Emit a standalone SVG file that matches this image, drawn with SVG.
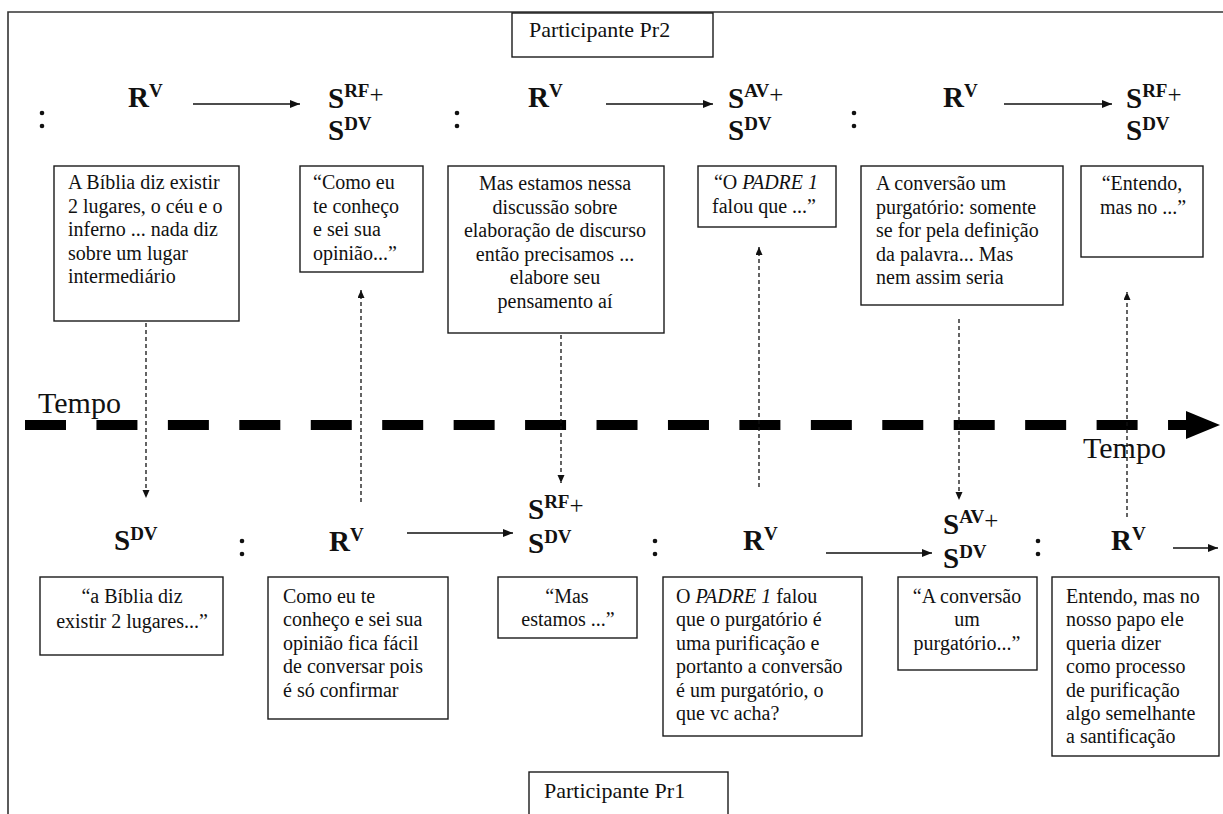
<svg xmlns="http://www.w3.org/2000/svg" width="1223" height="814" viewBox="0 0 1223 814">
<defs>
<style>
.box{fill:#fff;stroke:#1a1a1a;stroke-width:1.4}
.t{font-family:"Liberation Serif","Times New Roman",serif;font-size:20px;fill:#111}
.c{text-anchor:middle}
.lab{font-family:"Liberation Serif","Times New Roman",serif;font-size:29px;font-weight:bold;fill:#111}
.sup{font-size:19px}
.plus{font-size:25px;font-weight:normal}
.part{font-family:"Liberation Serif","Times New Roman",serif;font-size:22px;fill:#111}
.tempo{font-family:"Liberation Serif","Times New Roman",serif;font-size:30px;fill:#111}
.solid{stroke:#111;stroke-width:1.4;fill:none}
.dot{stroke:#111;stroke-width:1.3;stroke-dasharray:4 3;fill:none}
.colon{fill:#111}
</style>
<marker id="ah" markerUnits="userSpaceOnUse" markerWidth="12" markerHeight="10" refX="10" refY="4" orient="auto">
<path d="M0,0 L10,4 L0,8 Z" fill="#111"/>
</marker>
<marker id="dh" markerUnits="userSpaceOnUse" markerWidth="10" markerHeight="8" refX="8" refY="3.5" orient="auto">
<path d="M0,0 L8,3.5 L0,7 Z" fill="#111"/>
</marker>
</defs>
<rect width="1223" height="814" fill="#fff"/>
<g id="frame">
<path d="M8,814 L8,12 L1223,12" stroke="#333" stroke-width="1.6" fill="none"/>
</g>

<g id="timeline">
<line x1="25" y1="425" x2="1190" y2="425" stroke="#000" stroke-width="10" stroke-dasharray="41 30.44"/>
<polygon points="1186,411 1220,425 1186,439" fill="#000"/>
<text class="tempo" x="38" y="413">Tempo</text>
<text class="tempo" x="1083" y="458">Tempo</text>
</g>

<g id="pr2">
<rect class="box" x="512" y="13" width="201" height="44"/>
<text class="part" x="529" y="37">Participante Pr2</text>
</g>
<g id="pr1">
<rect class="box" x="529" y="772" width="199" height="50"/>
<text class="part" x="544" y="798">Participante Pr1</text>
</g>

<g id="top-labels">
<circle class="colon" cx="42" cy="113" r="2.3"/><circle class="colon" cx="42" cy="126" r="2.3"/>
<circle class="colon" cx="457" cy="113" r="2.3"/><circle class="colon" cx="457" cy="126" r="2.3"/>
<circle class="colon" cx="854" cy="113" r="2.3"/><circle class="colon" cx="854" cy="126" r="2.3"/>
<text class="lab" x="128" y="107">R<tspan class="sup" dy="-10">V</tspan></text>
<text class="lab" x="328" y="108">S<tspan class="sup" dy="-11">RF</tspan><tspan class="plus" dy="6">+</tspan></text>
<text class="lab" x="328" y="140">S<tspan class="sup" dy="-10">DV</tspan></text>
<text class="lab" x="528" y="107">R<tspan class="sup" dy="-10">V</tspan></text>
<text class="lab" x="728" y="108">S<tspan class="sup" dy="-11">AV</tspan><tspan class="plus" dy="6">+</tspan></text>
<text class="lab" x="728" y="140">S<tspan class="sup" dy="-10">DV</tspan></text>
<text class="lab" x="943" y="107">R<tspan class="sup" dy="-10">V</tspan></text>
<text class="lab" x="1126" y="108">S<tspan class="sup" dy="-11">RF</tspan><tspan class="plus" dy="6">+</tspan></text>
<text class="lab" x="1126" y="140">S<tspan class="sup" dy="-10">DV</tspan></text>
</g>

<g id="bottom-labels">
<circle class="colon" cx="242" cy="541" r="2.3"/><circle class="colon" cx="242" cy="554" r="2.3"/>
<circle class="colon" cx="655" cy="541" r="2.3"/><circle class="colon" cx="655" cy="554" r="2.3"/>
<circle class="colon" cx="1038" cy="541" r="2.3"/><circle class="colon" cx="1038" cy="554" r="2.3"/>
<text class="lab" x="114" y="550">S<tspan class="sup" dy="-10">DV</tspan></text>
<text class="lab" x="329" y="551">R<tspan class="sup" dy="-10">V</tspan></text>
<text class="lab" x="528" y="519">S<tspan class="sup" dy="-11">RF</tspan><tspan class="plus" dy="6">+</tspan></text>
<text class="lab" x="528" y="553">S<tspan class="sup" dy="-10">DV</tspan></text>
<text class="lab" x="743" y="550">R<tspan class="sup" dy="-10">V</tspan></text>
<text class="lab" x="943" y="534">S<tspan class="sup" dy="-11">AV</tspan><tspan class="plus" dy="6">+</tspan></text>
<text class="lab" x="943" y="568">S<tspan class="sup" dy="-10">DV</tspan></text>
<text class="lab" x="1111" y="550">R<tspan class="sup" dy="-10">V</tspan></text>
</g>

<g id="t1">
<rect class="box" x="54" y="166" width="185" height="155"/>
<text class="t" x="68" y="189">A Bíblia diz existir</text>
<text class="t" x="68" y="212.5">2 lugares, o céu e o</text>
<text class="t" x="68" y="236">inferno ... nada diz</text>
<text class="t" x="68" y="259.5">sobre um lugar</text>
<text class="t" x="68" y="283">intermediário</text>
</g>
<g id="t2">
<rect class="box" x="300" y="166" width="123" height="106"/>
<text class="t" x="313" y="189">“Como eu</text>
<text class="t" x="313" y="212.5">te conheço</text>
<text class="t" x="313" y="236">e sei sua</text>
<text class="t" x="313" y="259.5">opinião...”</text>
</g>
<g id="t3">
<rect class="box" x="448" y="166" width="216" height="167"/>
<text class="t c" x="555" y="190">Mas estamos nessa</text>
<text class="t c" x="555" y="213.5">discussão sobre</text>
<text class="t c" x="555" y="237">elaboração  de discurso</text>
<text class="t c" x="555" y="260.5">então precisamos  ...</text>
<text class="t c" x="555" y="284">elabore seu</text>
<text class="t c" x="555" y="307.5">pensamento aí</text>
</g>
<g id="t4">
<rect class="box" x="698" y="166" width="138" height="61"/>
<text class="t c" x="766" y="189">“O <tspan font-style="italic">PADRE 1</tspan></text>
<text class="t c" x="764" y="212.5">falou que ...”</text>
</g>
<g id="t5">
<rect class="box" x="861" y="166" width="202" height="139"/>
<text class="t" x="876" y="190">A conversão um</text>
<text class="t" x="876" y="213.5">purgatório: somente</text>
<text class="t" x="876" y="237">se for pela  definição</text>
<text class="t" x="876" y="260.5">da palavra... Mas</text>
<text class="t" x="876" y="284">nem assim  seria</text>
</g>
<g id="t6">
<rect class="box" x="1081" y="166" width="122" height="91"/>
<text class="t c" x="1142" y="190">“Entendo,</text>
<text class="t c" x="1143" y="214">mas no ...”</text>
</g>

<g id="b1">
<rect class="box" x="40" y="577" width="183" height="78"/>
<text class="t c" x="132" y="603">“a Bíblia  diz</text>
<text class="t c" x="132" y="627.5">existir 2 lugares...”</text>
</g>
<g id="b2">
<rect class="box" x="268" y="577" width="180" height="142"/>
<text class="t" x="283" y="603">Como eu te</text>
<text class="t" x="283" y="626.4">conheço e sei sua</text>
<text class="t" x="283" y="649.8">opinião  fica fácil</text>
<text class="t" x="283" y="673.2">de conversar pois</text>
<text class="t" x="283" y="696.6">é só confirmar</text>
</g>
<g id="b3">
<rect class="box" x="498" y="577" width="139" height="61"/>
<text class="t c" x="567" y="603">“Mas</text>
<text class="t c" x="568" y="626.4">estamos ...”</text>
</g>
<g id="b4">
<rect class="box" x="663" y="577" width="199" height="159"/>
<text class="t" x="676" y="603">O <tspan font-style="italic">PADRE 1</tspan> falou</text>
<text class="t" x="676" y="626.4">que o purgatório é</text>
<text class="t" x="676" y="649.8">uma purificação  e</text>
<text class="t" x="676" y="673.2">portanto  a conversão</text>
<text class="t" x="676" y="696.6">é um  purgatório,  o</text>
<text class="t" x="676" y="720">que vc acha?</text>
</g>
<g id="b5">
<rect class="box" x="898" y="577" width="139" height="93"/>
<text class="t c" x="967" y="603">“A conversão</text>
<text class="t c" x="967" y="626.4">um</text>
<text class="t c" x="967" y="649.8">purgatório...”</text>
</g>
<g id="b6">
<rect class="box" x="1052" y="577" width="167" height="179"/>
<text class="t" x="1066" y="603">Entendo, mas no</text>
<text class="t" x="1066" y="626.4">nosso papo ele</text>
<text class="t" x="1066" y="649.8">queria dizer</text>
<text class="t" x="1066" y="673.2">como processo</text>
<text class="t" x="1066" y="696.6">de purificação</text>
<text class="t" x="1066" y="720">algo semelhante</text>
<text class="t" x="1066" y="743.4">a santificação</text>
</g>

<g id="connectors">
<line class="solid" x1="193" y1="104" x2="300" y2="104" marker-end="url(#ah)"/>
<line class="solid" x1="606" y1="104" x2="713" y2="104" marker-end="url(#ah)"/>
<line class="solid" x1="1004" y1="104" x2="1112" y2="104" marker-end="url(#ah)"/>
<line class="solid" x1="407" y1="533" x2="513" y2="533" marker-end="url(#ah)"/>
<line class="solid" x1="826" y1="553" x2="932" y2="553" marker-end="url(#ah)"/>
<line class="solid" x1="1173" y1="548" x2="1218" y2="548" marker-end="url(#ah)"/>
<line class="dot" x1="146" y1="323" x2="146" y2="498" marker-end="url(#dh)"/>
<line class="dot" x1="361" y1="502" x2="361" y2="290" marker-end="url(#dh)"/>
<line class="dot" x1="561" y1="335" x2="561" y2="483" marker-end="url(#dh)"/>
<line class="dot" x1="759" y1="487" x2="759" y2="247" marker-end="url(#dh)"/>
<line class="dot" x1="959" y1="319" x2="959" y2="500" marker-end="url(#dh)"/>
<line class="dot" x1="1127" y1="517" x2="1127" y2="292" marker-end="url(#dh)"/>
</g>
</svg>
